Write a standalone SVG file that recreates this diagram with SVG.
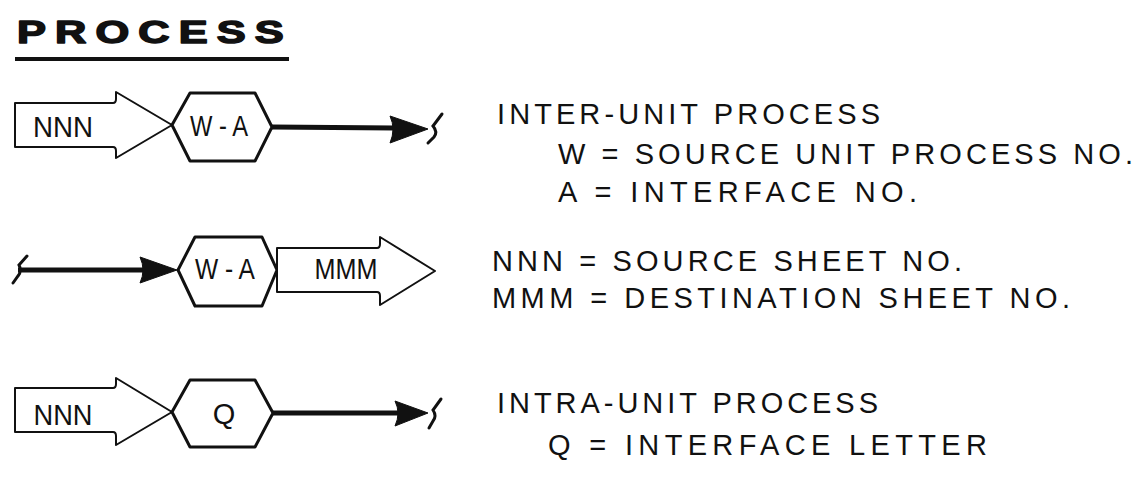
<svg xmlns="http://www.w3.org/2000/svg" width="1142" height="487" viewBox="0 0 1142 487">
<style>
.bg{fill:#fff}
.shape{fill:#fff;stroke:#111;stroke-width:2;stroke-linejoin:round}
.hex{fill:#fff;stroke:#111;stroke-width:3;stroke-linejoin:round}
.flow{stroke:#111;stroke-width:5;fill:none}
.head{fill:#111;stroke:#111;stroke-width:1;stroke-linejoin:round}
.brk{stroke:#111;stroke-width:3;fill:none;stroke-linecap:round}
.lbl{font-family:"Liberation Sans",Arial,sans-serif;font-size:29px;fill:#111}
.nt{font-family:"Liberation Sans",Arial,sans-serif;font-size:29px;fill:#111;text-anchor:middle}
.title{font-family:"Liberation Sans",Arial,sans-serif;font-size:31px;font-weight:bold;fill:#111;stroke:#111;stroke-width:1.5;stroke-linejoin:round}
</style>
<rect class="bg" x="0" y="0" width="1142" height="487"/>

<g id="title">
<text class="title" transform="translate(17,43) scale(1.4,1)" x="0" y="0" letter-spacing="6.5">PROCESS</text>
<rect x="15" y="57" width="274" height="4" fill="#111"/>
</g>

<g id="connectors">
<line class="flow" x1="272" y1="127" x2="394" y2="128"/>
<path class="head" d="M390,116 L428,129 L390,143 Q396,129 390,116 Z"/>
<path class="brk" d="M442,114 L433,126 Q438,132 434,137 L428,143"/>

<line class="flow" x1="18" y1="270" x2="144" y2="270"/>
<path class="head" d="M140,257 L177,270 L140,283 Q146,270 140,257 Z"/>
<path class="brk" d="M27,256 L19,265 Q22,271 18,276 L13,283"/>

<line class="flow" x1="273" y1="413" x2="399" y2="413"/>
<path class="head" d="M395,401 L428,413 L395,426 Q401,413 395,401 Z"/>
<path class="brk" d="M441,399 L433,410 Q437,416 433,421 L429,428"/>
</g>

<g id="node-nnn-1">
<path class="shape" d="M15,103 L113,103 Q116,103 116,99 L116,92 L172,125 L116,158 L116,151 Q116,147 113,147 L15,147 Z"/>
<text class="nt" x="63" y="137" textLength="60" lengthAdjust="spacingAndGlyphs">NNN</text>
</g>
<g id="node-wa-1">
<polygon class="hex" points="172,125 190,93 255,93 272,127 255,161 190,161"/>
<text class="nt" x="219" y="136" textLength="58" lengthAdjust="spacingAndGlyphs">W - A</text>
</g>

<g id="node-wa-2">
<polygon class="hex" points="178,270 195,237 262,237 277,270 262,306 195,306"/>
<text class="nt" x="225" y="279" textLength="60" lengthAdjust="spacingAndGlyphs">W - A</text>
</g>
<g id="node-mmm">
<path class="shape" d="M277,248 L377,248 Q380,248 380,244 L380,237 L435,271 L380,305 L380,296 Q380,292 377,292 L277,292 Z"/>
<text class="nt" x="346" y="279" textLength="63" lengthAdjust="spacingAndGlyphs">MMM</text>
</g>

<g id="node-nnn-3">
<path class="shape" d="M15,388 L113,388 Q116,388 116,384 L116,378 L172,412 L116,445 L116,436 Q116,432 113,432 L15,432 Z"/>
<text class="nt" x="63" y="425" textLength="59" lengthAdjust="spacingAndGlyphs">NNN</text>
</g>
<g id="node-q">
<polygon class="hex" points="172,412 190,380 255,380 273,413 255,447 190,447"/>
<text class="nt" x="224" y="424">Q</text>
</g>

<g id="legend">
<text class="lbl" x="497" y="124" textLength="383" lengthAdjust="spacing">INTER-UNIT PROCESS</text>
<text class="lbl" x="558" y="164" textLength="575" lengthAdjust="spacing">W = SOURCE UNIT PROCESS NO.</text>
<text class="lbl" x="558" y="202" textLength="359" lengthAdjust="spacing">A = INTERFACE NO.</text>
<text class="lbl" x="492" y="271" textLength="470" lengthAdjust="spacing">NNN = SOURCE SHEET NO.</text>
<text class="lbl" x="492" y="308" textLength="578" lengthAdjust="spacing">MMM = DESTINATION SHEET NO.</text>
<text class="lbl" x="497" y="413" textLength="381" lengthAdjust="spacing">INTRA-UNIT PROCESS</text>
<text class="lbl" x="548" y="455" textLength="439" lengthAdjust="spacing">Q = INTERFACE LETTER</text>
</g>
</svg>
